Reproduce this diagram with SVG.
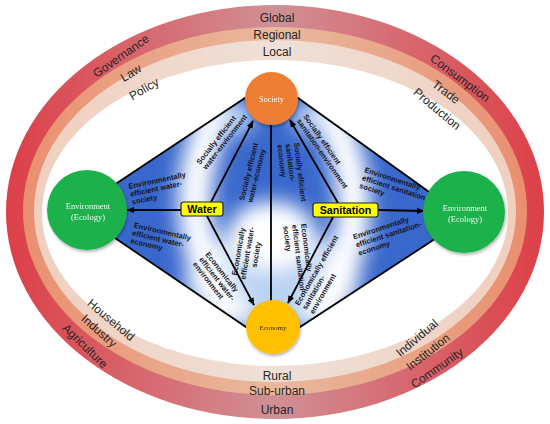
<svg xmlns="http://www.w3.org/2000/svg" width="550" height="424" viewBox="0 0 550 424">
<defs>
<style>
.ring{font-family:"Liberation Sans",Arial,sans-serif;font-size:12px;fill:#262626;text-anchor:middle}
.lbl{font-family:"Liberation Sans",Arial,sans-serif;font-size:7.5px;font-weight:bold;fill:#15151f}
.mid{text-anchor:middle}
.box{fill:#ffff00;stroke:#222;stroke-width:1.2}
.boxt{font-family:"Liberation Sans",Arial,sans-serif;font-size:10.7px;font-weight:bold;fill:#000;text-anchor:middle}
.ctext{font-family:"Liberation Serif","Times New Roman",serif;text-anchor:middle}
.edge{fill:none;stroke:#000;stroke-width:1.8}
.arr{fill:none;stroke:#000;stroke-width:1.8;marker-end:url(#ah)}
</style>
<marker id="ah" viewBox="0 0 10 10" refX="9" refY="5" markerWidth="8" markerHeight="8" markerUnits="userSpaceOnUse" orient="auto">
<path d="M0,1 L10,5 L0,9 z" fill="#000"/>
</marker>
<linearGradient id="gRed" x1="0" y1="0" x2="1" y2="0">
<stop offset="0" stop-color="#dd3f47"/><stop offset="0.3" stop-color="#d66f76"/><stop offset="0.5" stop-color="#cf9196"/><stop offset="0.7" stop-color="#d66f76"/><stop offset="1" stop-color="#dd3f47"/>
</linearGradient>
<linearGradient id="gOr" x1="0" y1="0" x2="1" y2="0">
<stop offset="0" stop-color="#ea8f70"/><stop offset="0.5" stop-color="#e9b99e"/><stop offset="1" stop-color="#ea8f70"/>
</linearGradient>
<linearGradient id="gLt" x1="0" y1="0" x2="1" y2="0">
<stop offset="0" stop-color="#f0cfbf"/><stop offset="0.5" stop-color="#efe0d7"/><stop offset="1" stop-color="#f0cfbf"/>
</linearGradient>
<clipPath id="dia"><polygon points="245,98 298,98 464,217 464,220 300,327 246,327 87,219 87,203"/></clipPath>
<filter id="blur" x="-50%" y="-50%" width="200%" height="200%"><feGaussianBlur stdDeviation="10"/></filter>
<filter id="sh" x="-30%" y="-30%" width="160%" height="160%"><feDropShadow dx="1" dy="2" stdDeviation="1.5" flood-color="#000" flood-opacity="0.3"/></filter>
</defs>
<rect width="550" height="424" fill="#fff"/>
<g id="rings">
<ellipse cx="275" cy="212" rx="269" ry="207" fill="url(#gRed)"/>
<ellipse cx="275" cy="211" rx="252" ry="184" fill="url(#gOr)"/>
<ellipse cx="275" cy="211" rx="241" ry="171" fill="url(#gLt)"/>
<ellipse cx="275" cy="213" rx="233" ry="153" fill="#fff"/>
</g>
<g id="ring-labels">
<text class="ring" x="277" y="22">Global</text>
<text class="ring" x="277" y="39">Regional</text>
<text class="ring" x="277" y="56">Local</text>
<text class="ring" x="277" y="380">Rural</text>
<text class="ring" x="277" y="395">Sub-urban</text>
<text class="ring" x="277" y="414">Urban</text>
<text class="ring" transform="translate(121,56) rotate(-35)" y="4">Governance</text>
<text class="ring" transform="translate(131,73) rotate(-32)" y="4">Law</text>
<text class="ring" transform="translate(144,89) rotate(-30)" y="4">Policy</text>
<text class="ring" transform="translate(460,78) rotate(37)" y="4">Consumption</text>
<text class="ring" transform="translate(446,92) rotate(37)" y="4">Trade</text>
<text class="ring" transform="translate(437,109) rotate(40)" y="4">Production</text>
<text class="ring" transform="translate(111,320) rotate(40)" y="4">Household</text>
<text class="ring" transform="translate(99,331) rotate(42)" y="4">Industry</text>
<text class="ring" transform="translate(85,346) rotate(44)" y="4">Agriculture</text>
<text class="ring" transform="translate(417,338) rotate(-40)" y="4">Individual</text>
<text class="ring" transform="translate(428,352) rotate(-38)" y="4">Institution</text>
<text class="ring" transform="translate(437,368) rotate(-35)" y="4">Community</text>
</g>
<g id="diamond-fill" clip-path="url(#dia)">
<rect x="80" y="90" width="390" height="245" fill="#3968cc"/>
<g filter="url(#blur)">
<ellipse cx="272" cy="282" rx="88" ry="52" fill="#b9d3f3"/>
<path d="M224,100 Q160,210 236,322" fill="none" stroke="#fff" stroke-width="34"/>
<path d="M320,100 Q390,210 314,322" fill="none" stroke="#fff" stroke-width="34"/>
<ellipse cx="272" cy="235" rx="44" ry="34" fill="#fff"/>
<ellipse cx="236" cy="118" rx="18" ry="16" fill="#c5dbf5"/>
<ellipse cx="310" cy="118" rx="18" ry="16" fill="#c5dbf5"/>
</g>
</g>
<g id="connectors">
<polygon class="edge" points="245,98 298,98 464,217 464,220 300,327 246,327 87,219 87,203"/>
<line class="edge" x1="271" y1="124" x2="271" y2="301"/>
<line class="arr" x1="181" y1="210" x2="127" y2="210"/>
<line class="arr" x1="211" y1="202" x2="253" y2="121"/>
<line class="arr" x1="207" y1="216" x2="254" y2="305"/>
<line class="arr" x1="378" y1="210" x2="424" y2="211"/>
<line class="arr" x1="338" y1="203" x2="290" y2="120"/>
<line class="arr" x1="333" y1="217" x2="288" y2="303"/>
</g>
<g id="edge-labels">
<text class="lbl" transform="translate(129,189) rotate(-12)"><tspan x="0" y="0">Environmentally</tspan><tspan x="0" dy="8">efficient water-</tspan><tspan x="0" dy="8">society</tspan></text>
<text class="lbl" transform="translate(200,165) rotate(-52)"><tspan x="0" y="0">Socially efficient</tspan><tspan x="0" dy="8">water-environment</tspan></text>
<text class="lbl" transform="translate(244,201) rotate(-76)"><tspan x="0" y="0">Socially efficient</tspan><tspan x="0" dy="8.5">water-economy</tspan></text>
<text class="lbl" transform="translate(294,143) rotate(83)"><tspan x="0" y="0">Socially efficient</tspan><tspan x="0" dy="8.5">sanitation-</tspan><tspan x="0" dy="8.5">economy</tspan></text>
<text class="lbl" transform="translate(303,116.5) rotate(55)"><tspan x="0" y="0">Socially efficient</tspan><tspan x="0" dy="8">sanitation-environment</tspan></text>
<text class="lbl" transform="translate(364,172) rotate(18)"><tspan x="0" y="0">Environmentally</tspan><tspan x="0" dy="8.3">efficient sanitation-</tspan><tspan x="0" dy="8.3">society</tspan></text>
<text class="lbl" transform="translate(133.5,227.5) rotate(13)"><tspan x="0" y="0">Environmentally</tspan><tspan x="0" dy="8">efficient water-</tspan><tspan x="0" dy="8">economy</tspan></text>
<text class="lbl" transform="translate(205,254.5) rotate(52)"><tspan x="0" y="0">Economically</tspan><tspan x="0" dy="8">efficient water-</tspan><tspan x="0" dy="8">environment</tspan></text>
<text class="lbl mid" transform="translate(241,252) rotate(-80)"><tspan x="0" y="0">Economically</tspan><tspan x="0" dy="9">efficient water-</tspan><tspan x="0" dy="9">society</tspan></text>
<text class="lbl" transform="translate(301,224) rotate(83)"><tspan x="0" y="0">Economically</tspan><tspan x="0" dy="9">efficient sanitation-</tspan><tspan x="0" dy="9">society</tspan></text>
<text class="lbl" transform="translate(299,306) rotate(-60)"><tspan x="0" y="0">Economically efficient</tspan><tspan x="0" dy="8.5">sanitation-</tspan><tspan x="0" dy="8.5">environment</tspan></text>
<text class="lbl" transform="translate(354,239.5) rotate(-18)"><tspan x="0" y="0">Environmentally</tspan><tspan x="0" dy="8.5">efficient sanitation-</tspan><tspan x="0" dy="8.5">economy</tspan></text>
</g>
<g id="society" filter="url(#sh)">
<circle cx="271.5" cy="98.5" r="26.5" fill="#ed7d31"/>
<text class="ctext" x="271.5" y="101.5" font-size="8.3" fill="#fff">Society</text>
</g>
<g id="economy" filter="url(#sh)">
<circle cx="273" cy="327" r="27" fill="#ffc000"/>
<text class="ctext" x="273" y="329.5" font-size="7" fill="#3a2a00">Economy</text>
</g>
<g id="env-left" filter="url(#sh)">
<circle cx="87" cy="210" r="40" fill="#1db14b"/>
<text class="ctext" x="88" y="209" font-size="8.5" fill="#eef8ee">Environment</text>
<text class="ctext" x="88" y="220" font-size="8.5" fill="#eef8ee">(Ecology)</text>
</g>
<g id="env-right" filter="url(#sh)">
<circle cx="464" cy="212" r="41" fill="#1db14b"/>
<text class="ctext" x="465" y="211" font-size="8.5" fill="#eef8ee">Environment</text>
<text class="ctext" x="465" y="222" font-size="8.5" fill="#eef8ee">(Ecology)</text>
</g>
<g id="water">
<rect class="box" x="181" y="202" width="42" height="14" rx="2.5"/>
<text class="boxt" x="202" y="213">Water</text>
</g>
<g id="sanitation">
<rect class="box" x="313" y="203" width="65" height="14" rx="2.5"/>
<text class="boxt" x="345.5" y="214">Sanitation</text>
</g>
</svg>
